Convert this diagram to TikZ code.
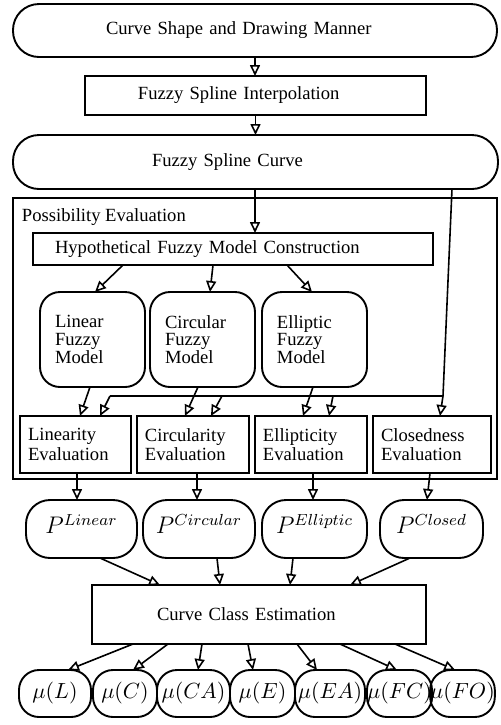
\documentclass[tikz,border=0pt]{standalone}
\usepackage{fontspec}
\setmainfont{Liberation Serif}
\usetikzlibrary{calc,arrows.meta}
\begin{document}
\begin{tikzpicture}[x=0.5pt,y=-0.5pt,
  every node/.style={inner sep=0pt, outer sep=0pt},
  bx/.style={draw, line width=0.95pt, rectangle},
  txt/.style={font=\fontsize{9.3}{10}\selectfont, align=left},
  modelbox/.style={bx, rounded corners=10pt, minimum width=52.5pt, minimum height=47.5pt,
     inner xsep=7.5pt, text width=37.5pt, align=left, font=\fontsize{9.3}{8.8}\selectfont},
  evalbox/.style={bx, minimum height=28.5pt, inner xsep=4pt, align=left,
     font=\fontsize{9.3}{9.6}\selectfont},
  pbox/.style={bx, rounded corners=12pt, minimum height=29pt, text depth=5pt,
     font=\fontsize{12}{14}\selectfont},
  mubox/.style={bx, rounded corners=10pt, minimum height=23.5pt,
     font=\fontsize{10.95}{13}\selectfont},
  arr/.style={line width=0.8pt, -{Triangle[open, length=5.5pt, width=5pt]}},
  ln/.style={line width=0.8pt}]
\useasboundingbox (0,0) rectangle (501,725);

% top flow
\node[bx, rounded corners=13pt, minimum width=242pt, minimum height=26.5pt,
      inner xsep=46.5pt, text width=149pt, txt] (top) at (255,30.5) {Curve Shape and Drawing Manner};
\node[bx, minimum width=170.5pt, minimum height=19.5pt,
      inner xsep=26.5pt, text width=117.5pt, txt] (interp) at (255.5,95.5) {Fuzzy Spline Interpolation};
\node[bx, rounded corners=13pt, minimum width=242.5pt, minimum height=27pt,
      inner xsep=69.5pt, text width=103.5pt, txt] (fsc) at (255.5,162) {Fuzzy Spline Curve};

% possibility evaluation frame
\node[draw, line width=1.2pt, minimum width=242pt, minimum height=140.5pt] (poss) at (255,338.5) {};
\node[anchor=west, txt] (posst) at ($(poss.north west)+(9,19)$) {Possibility Evaluation};

\node[bx, minimum width=200pt, minimum height=16pt,
      inner xsep=11pt, text width=178pt, txt] (hfmc) at (233,249) {Hypothetical Fuzzy Model Construction};

\node[modelbox] (mlin) at (92.5,339.5) {Linear\\Fuzzy\\Model};
\node[modelbox] (mcir) at (202.5,339.5) {Circular\\Fuzzy\\Model};
\node[modelbox] (mell) at (314.5,339.5) {Elliptic\\Fuzzy\\Model};

\node[evalbox, minimum width=55.5pt, text width=47.5pt] (elin) at (75.5,444.5) {Linearity\\Evaluation};
\node[evalbox, minimum width=56pt, text width=48pt] (ecir) at (193,444.5) {Circularity\\Evaluation};
\node[evalbox, minimum width=56pt, text width=48pt] (eell) at (311,444.5) {Ellipticity\\Evaluation};
\node[evalbox, minimum width=59pt, text width=51pt] (eclo) at (432,444.5) {Closedness\\Evaluation};

% possibilities
\node[pbox, minimum width=55.5pt] (plin) at (81.5,529) {$P^{Linear}$};
\node[pbox, minimum width=56pt] (pcir) at (199,529) {$P^{Circular}$};
\node[pbox, minimum width=52.5pt] (pell) at (314.5,529) {$P^{Elliptic}$};
\node[pbox, minimum width=51.5pt] (pclo) at (431.5,529) {$P^{Closed}$};

\node[bx, minimum width=167pt, minimum height=29.5pt,
      inner xsep=32.5pt, text width=102pt, txt] (cce) at (259,614.5) {Curve Class Estimation};

% memberships
\node[mubox, minimum width=36pt] (mul) at (55,693.5) {$\mu(L)$};
\node[mubox, minimum width=32pt] (muc) at (125,693.5) {$\mu(C)$};
\node[mubox, minimum width=36.5pt] (muca) at (193.5,693.5) {$\mu(CA)$};
\node[mubox, minimum width=32.5pt] (mue) at (262.5,693.5) {$\mu(E)$};
\node[mubox, minimum width=35pt] (muea) at (330,693.5) {$\mu(EA)$};
\node[mubox, minimum width=32.5pt] (mufc) at (399.5,693.5) {$\mu(FC)$};
\node[mubox, minimum width=30.5pt] (mufo) at (462.5,693.5) {$\mu(FO)$};

% connectors
\draw[arr] (top.south) -- (top.south |- interp.north);
\draw[arr] (interp.south) -- (fsc.north);
\draw[arr] ($(fsc.south west)+(242,0)$) -- ($(hfmc.north west)+(222,0)$);

\coordinate (j) at (443,396);
\coordinate (hl) at (110,396);
\coordinate (h2) at (222,396);
\coordinate (h3) at (333,396);
\draw[ln] ($(fsc.south east)+(-46,0)$) -- (j);
\draw[arr] (j) -- ($(eclo.north west)+(67,0)$);
\draw[ln] (j) -- (hl);
\draw[arr] (hl) -- ($(elin.north west)+(80,0)$);
\draw[arr] (h2) -- ($(ecir.north west)+(74,0)$);
\draw[arr] (h3) -- ($(eell.north west)+(74,0)$);

\draw[arr] ($(hfmc.south west)+(90,0)$) -- ($(mlin.north west)+(55,0)$);
\draw[arr] ($(hfmc.south west)+(180,0)$) -- ($(mcir.north west)+(60,0)$);
\draw[arr] ($(hfmc.south west)+(254,0)$) -- ($(mell.north west)+(50,0)$);

\draw[arr] ($(mlin.south west)+(50,0)$) -- ($(elin.north west)+(60,0)$);
\draw[arr] ($(mcir.south west)+(48,0)$) -- ($(ecir.north west)+(48,0)$);
\draw[arr] ($(mell.south west)+(51,0)$) -- ($(eell.north west)+(48,0)$);

\draw[arr] ($(elin.south west)+(57,0)$) -- ($(plin.north west)+(51,0)$);
\draw[arr] ($(ecir.south west)+(60,0)$) -- ($(pcir.north west)+(54,0)$);
\draw[arr] ($(eell.south west)+(58,0)$) -- ($(pell.north west)+(51,0)$);
\draw[arr] ($(eclo.south west)+(57,0)$) -- ($(pclo.north west)+(47,0)$);

\draw[arr] ($(plin.south west)+(74,0)$) -- ($(cce.north west)+(68,0)$);
\draw[arr] ($(pcir.south west)+(74,0)$) -- ($(cce.north west)+(128,0)$);
\draw[arr] ($(pell.south west)+(31,0)$) -- ($(cce.north west)+(198,0)$);
\draw[arr] ($(pclo.south west)+(30,0)$) -- ($(cce.north west)+(258,0)$);

\draw[arr] ($(cce.south west)+(41,0)$) -- ($(mul.north west)+(49,0)$);
\draw[arr] ($(cce.south west)+(76,0)$) -- ($(muc.north west)+(40,0)$);
\draw[arr] ($(cce.south west)+(110,0)$) -- ($(muca.north west)+(41,0)$);
\draw[arr] ($(cce.south west)+(156,0)$) -- ($(mue.north west)+(23,0)$);
\draw[arr] ($(cce.south west)+(205,0)$) -- ($(muea.north west)+(22,0)$);
\draw[arr] ($(cce.south west)+(248,0)$) -- ($(mufc.north west)+(30,0)$);
\draw[arr] ($(cce.south west)+(303,0)$) -- ($(mufo.north west)+(25,0)$);
\end{tikzpicture}
\end{document}
